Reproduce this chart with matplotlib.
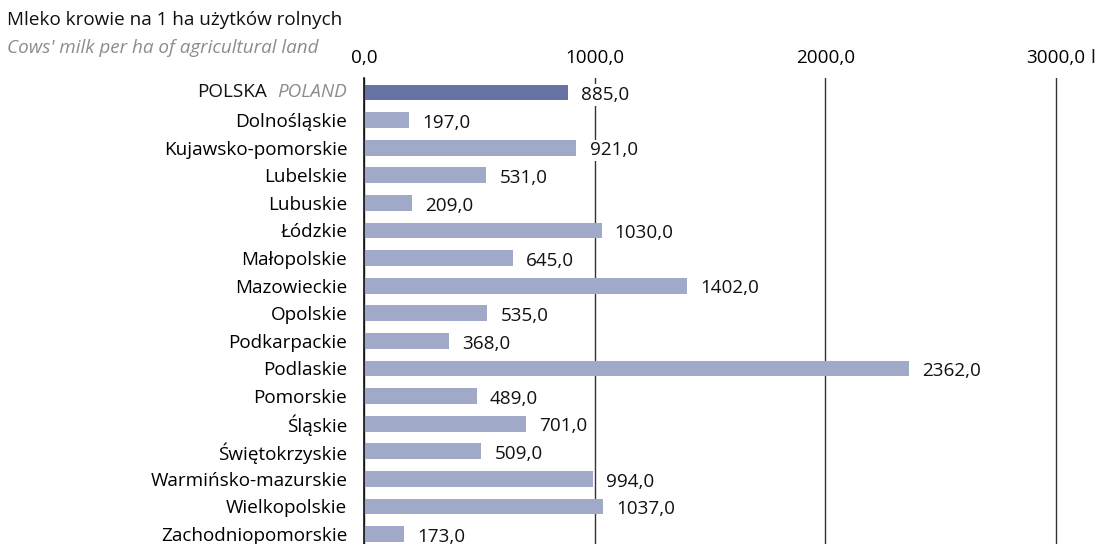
import matplotlib
matplotlib.use("Agg")
import matplotlib.pyplot as plt

plt.rcParams['font.family'] = ['Open Sans', 'DejaVu Sans']

regions = ["POLSKA", "Dolnośląskie", "Kujawsko-pomorskie", "Lubelskie", "Lubuskie",
           "Łódzkie", "Małopolskie", "Mazowieckie", "Opolskie", "Podkarpackie",
           "Podlaskie", "Pomorskie", "Śląskie", "Świętokrzyskie",
           "Warmińsko-mazurskie", "Wielkopolskie", "Zachodniopomorskie"]
values = [885.0, 197.0, 921.0, 531.0, 209.0, 1030.0, 645.0, 1402.0, 535.0, 368.0,
          2362.0, 489.0, 701.0, 509.0, 994.0, 1037.0, 173.0]
xticks = [0, 1000, 2000, 3000]
xtick_labels = ["0,0", "1000,0", "2000,0", "3000,0"]
title_pl = "Mleko krowie na 1 ha użytków rolnych"
title_en = "Cows' milk per ha of agricultural land"
poland_en = "POLAND"
unit = "l"

FS = 13.6
C_POL = "#6673a3"
C_REG = "#a1a9c8"

fig = plt.figure(figsize=(10.95, 5.44), dpi=100)
ax = fig.add_axes([364/1095, 0.0, 1 - 364/1095, 1 - 78/544])

ypos = list(range(len(regions)))
colors = [C_POL] + [C_REG] * (len(regions) - 1)
ax.barh(ypos, values, height=0.57, color=colors, zorder=2)

ax.set_xlim(0, 3169)
ax.set_ylim(16.36, -0.525)

ax.set_xticks(xticks)
ax.set_xticklabels(xtick_labels, fontsize=FS)
ax.xaxis.tick_top()
ax.tick_params(axis='x', length=0, pad=8)
ax.grid(axis='x', color='#333333', lw=1.0, zorder=1)

ax.set_yticks(ypos)
ax.set_yticklabels([""] + regions[1:], fontsize=FS)
ax.tick_params(axis='y', length=0, pad=12)

for s in ['top', 'right', 'bottom']:
    ax.spines[s].set_visible(False)
ax.spines['left'].set_color('#111111')
ax.spines['left'].set_linewidth(1.2)
ax.spines['left'].set_zorder(3)

for y, v in zip(ypos, values):
    lab = f"{v:.1f}".replace(".", ",")
    ax.annotate(lab, xy=(v, y), xytext=(9.5, -2), textcoords='offset points',
                ha='left', va='center', fontsize=FS, color='#111111', zorder=4,
                bbox=dict(boxstyle='square,pad=0.1', fc='white', ec='none'))

# POLSKA / POLAND label
t_en = ax.annotate(poland_en, xy=(0, 0), xycoords=('axes fraction', 'data'),
                   xytext=(-12, 0), textcoords='offset points', ha='right', va='center',
                   fontsize=FS, style='italic', color='#8c8c8c', annotation_clip=False)
fig.canvas.draw()
bb = t_en.get_window_extent()
w_pt = bb.width * 72 / fig.dpi
ax.annotate("POLSKA", xy=(0, 0), xycoords=('axes fraction', 'data'),
            xytext=(-12 - w_pt - 8, 0), textcoords='offset points', ha='right', va='center',
            fontsize=FS, color='#111111', annotation_clip=False)

# unit after last tick label
ax.annotate(unit, xy=(3000, 1), xycoords=('data', 'axes fraction'),
            xytext=(25, 8), textcoords='offset points', ha='left', va='bottom',
            fontsize=FS, color='#111111', annotation_clip=False)

fig.text(7/1095, 1 - 20/544, title_pl, fontsize=FS, color='#111111', ha='left', va='center')
fig.text(7/1095, 1 - 48/544, title_en, fontsize=FS, style='italic', color='#8c8c8c',
         ha='left', va='center')

fig.savefig("out.png", dpi=100)
